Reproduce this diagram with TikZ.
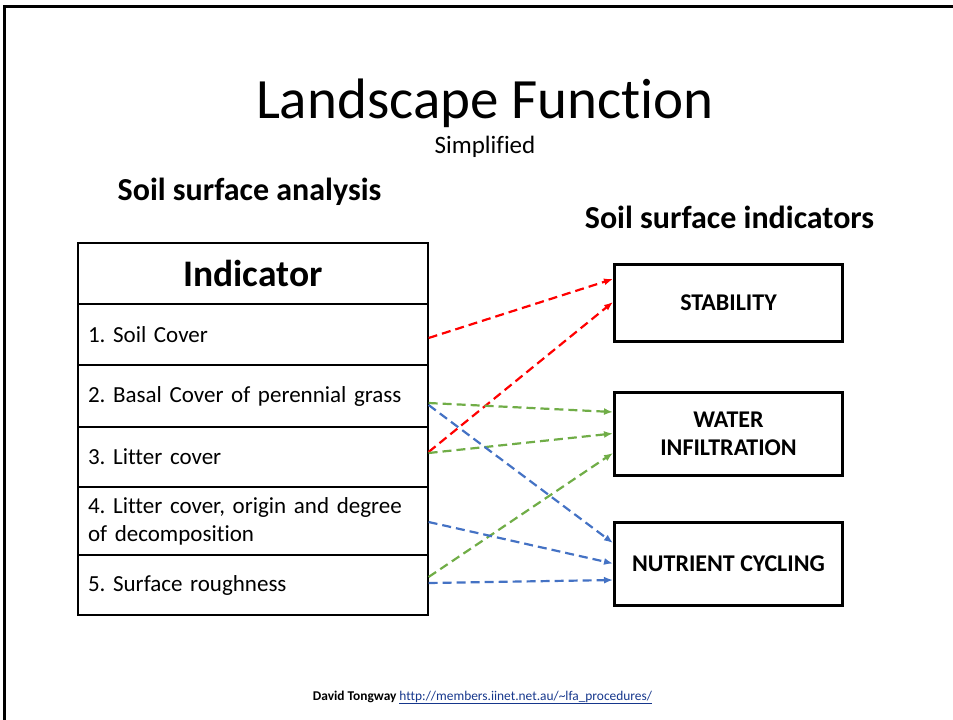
\documentclass[tikz,border=0pt]{standalone}
\usepackage{fontspec}
\setmainfont{Carlito}[Ligatures=NoCommon]
\usetikzlibrary{positioning,arrows.meta}

\definecolor{linkblue}{RGB}{22,55,140}
\definecolor{arrred}{RGB}{255,0,0}
\definecolor{arrgreen}{RGB}{112,173,71}
\definecolor{arrblue}{RGB}{68,114,196}
\frenchspacing

\begin{document}
\begin{tikzpicture}[x=1pt,y=-1pt,
    row/.style={draw, line width=1.2pt, minimum width=350pt, text width=330pt, align=left, inner sep=0pt, font=\fontsize{23}{28}\selectfont},
    target/.style={draw, line width=3pt, minimum width=228pt, align=center, inner sep=0pt, font=\bfseries\fontsize{24}{28}\selectfont},
    link/.style={line width=2.2pt, dash pattern=on 9pt off 5pt, -{Latex[length=9pt,width=7pt]}}]
    \useasboundingbox (0,0) rectangle (953,720);

    % Marco de la diapositiva
    \draw[black, line width=3pt] (4.5,720) -- (4.5,6.5) -- (953,6.5);

    % Titulos
    \node[anchor=base, font=\fontsize{57}{62}\selectfont] (title) at (485,118) {Landscape Function};
    \node[anchor=base, font=\fontsize{25}{30}\selectfont] (subtitle) at (485,153) {Simplified};
    \node[anchor=base, font=\bfseries\fontsize{32}{36}\selectfont] (analysis) at (249.5,200) {Soil surface analysis};
    \node[anchor=base, font=\bfseries\fontsize{32}{36}\selectfont] (indicators) at (729.5,228) {Soil surface indicators};

    % Tabla
    \node[row, minimum height=61pt, align=center, font=\bfseries\fontsize{37.5}{40}\selectfont] (hdr) at (253,273.5) {Indicator};
    \node[row, minimum height=61pt] (soilcov) at (253,334.5) {1. Soil Cover};
    \node[row, minimum height=62pt] (basal) at (253,396) {2. Basal Cover of perennial grass};
    \node[row, minimum height=60pt] (litter) at (253,457) {3. Litter cover};
    \node[row, minimum height=67pt] (decomp) at (253,521) {4. Litter cover, origin and degree\\of decomposition};
    \node[row, minimum height=60pt] (rough) at (253,585) {5. Surface roughness};

    % Cajas de la derecha
    \node[target, minimum height=77pt] (stab) at (728.5,303) {STABILITY};
    \node[target, minimum height=83pt] (water) at (728.5,433.5) {WATER\\INFILTRATION};
    \node[target, minimum height=83pt] (nutr) at (728.5,563.5) {NUTRIENT CYCLING};

    % Flechas rojas
    \draw[link, arrred] ([yshift=-3.5pt]soilcov.east) -- ([yshift=24pt]stab.west);
    \draw[link, arrred] ([yshift=5pt]litter.east) -- ([yshift=1pt]stab.west);
    % Flechas verdes
    \draw[link, arrgreen] ([yshift=-7pt]basal.east) -- ([yshift=21.5pt]water.west);
    \draw[link, arrgreen] ([yshift=4pt]litter.east) -- (water.west);
    \draw[link, arrgreen] ([yshift=8pt]rough.east) -- ([yshift=-19.5pt]water.west);
    % Flechas azules
    \draw[link, arrblue] ([yshift=-9pt]basal.east) -- ([yshift=20.5pt]nutr.west);
    \draw[link, arrblue] ([yshift=-1pt]decomp.east) -- (nutr.west);
    \draw[link, arrblue] ([yshift=2pt]rough.east) -- ([yshift=-16.5pt]nutr.west);

    % Pie
    \node[anchor=base, font=\fontsize{13.4}{15}\selectfont] (source) at (482.5,700) {\textbf{David Tongway} \textcolor{linkblue}{\underline{http://members.iinet.net.au/\textasciitilde lfa\_procedures/}}};
\end{tikzpicture}
\end{document}
